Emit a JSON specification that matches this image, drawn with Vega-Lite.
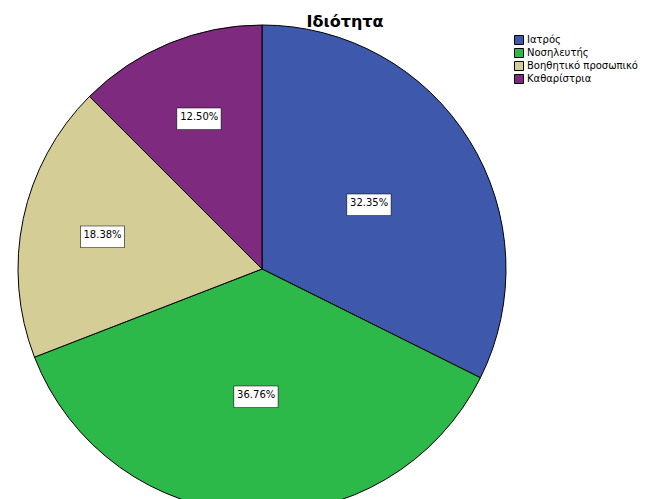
{
  "$schema": "https://vega.github.io/schema/vega-lite/v6.json",
  "autosize": {"type": "none"},
  "width": 524,
  "height": 458,
  "padding": {"left": 0, "top": 40, "right": 142, "bottom": 1},
  "background": "white",
  "title": {"text": "Ιδιότητα", "anchor": "middle", "frame": "group", "dx": 83, "font": "DejaVu Sans", "fontSize": 16, "fontWeight": "bold", "color": "black", "offset": -7},
  "data": {"values": [
    {"idiotita": "Ιατρός", "share": 0.3235, "order": 1},
    {"idiotita": "Νοσηλευτής", "share": 0.3676, "order": 2},
    {"idiotita": "Βοηθητικό προσωπικό", "share": 0.1838, "order": 3},
    {"idiotita": "Καθαρίστρια", "share": 0.1250, "order": 4}
  ]},
  "encoding": {
    "theta": {"field": "share", "type": "quantitative", "stack": true},
    "order": {"field": "order", "type": "quantitative"}
  },
  "layer": [
    {
      "mark": {"type": "arc", "radius": 244, "stroke": "black", "strokeWidth": 1},
      "encoding": {
        "color": {"field": "idiotita", "type": "nominal",
          "scale": {"domain": ["Ιατρός", "Νοσηλευτής", "Βοηθητικό προσωπικό", "Καθαρίστρια"], "range": ["#3e58ac", "#2db84a", "#d4cd95", "#7d2a7f"]},
          "legend": {"title": null, "orient": "none", "legendX": 514, "legendY": -5, "symbolType": "square", "symbolSize": 81, "symbolStrokeColor": "black", "symbolStrokeWidth": 1, "labelFont": "DejaVu Sans", "labelFontSize": 10, "labelColor": "black", "rowPadding": -1, "labelOffset": 3}
        }
      }
    },
    {
      "mark": {"type": "text", "font": "DejaVu Sans", "fontSize": 58, "fill": "white", "stroke": "black", "strokeWidth": 0.6, "baseline": "middle", "align": "center"},
      "encoding": {
        "radius": {"field": "share", "type": "quantitative", "scale": {"type": "linear", "domain": [0.18, 0.32], "range": [164, 126], "clamp": true, "zero": false}},
        "text": {"value": "▬"}
      }
    },
    {
      "mark": {"type": "text", "font": "DejaVu Sans", "fontSize": 10, "color": "black", "baseline": "middle", "align": "center"},
      "encoding": {
        "radius": {"field": "share", "type": "quantitative", "scale": {"type": "linear", "domain": [0.18, 0.32], "range": [164, 126], "clamp": true, "zero": false}},
        "text": {"field": "share", "type": "quantitative", "format": ".2%"}
      }
    }
  ],
  "config": {"view": {"stroke": null}}
}
